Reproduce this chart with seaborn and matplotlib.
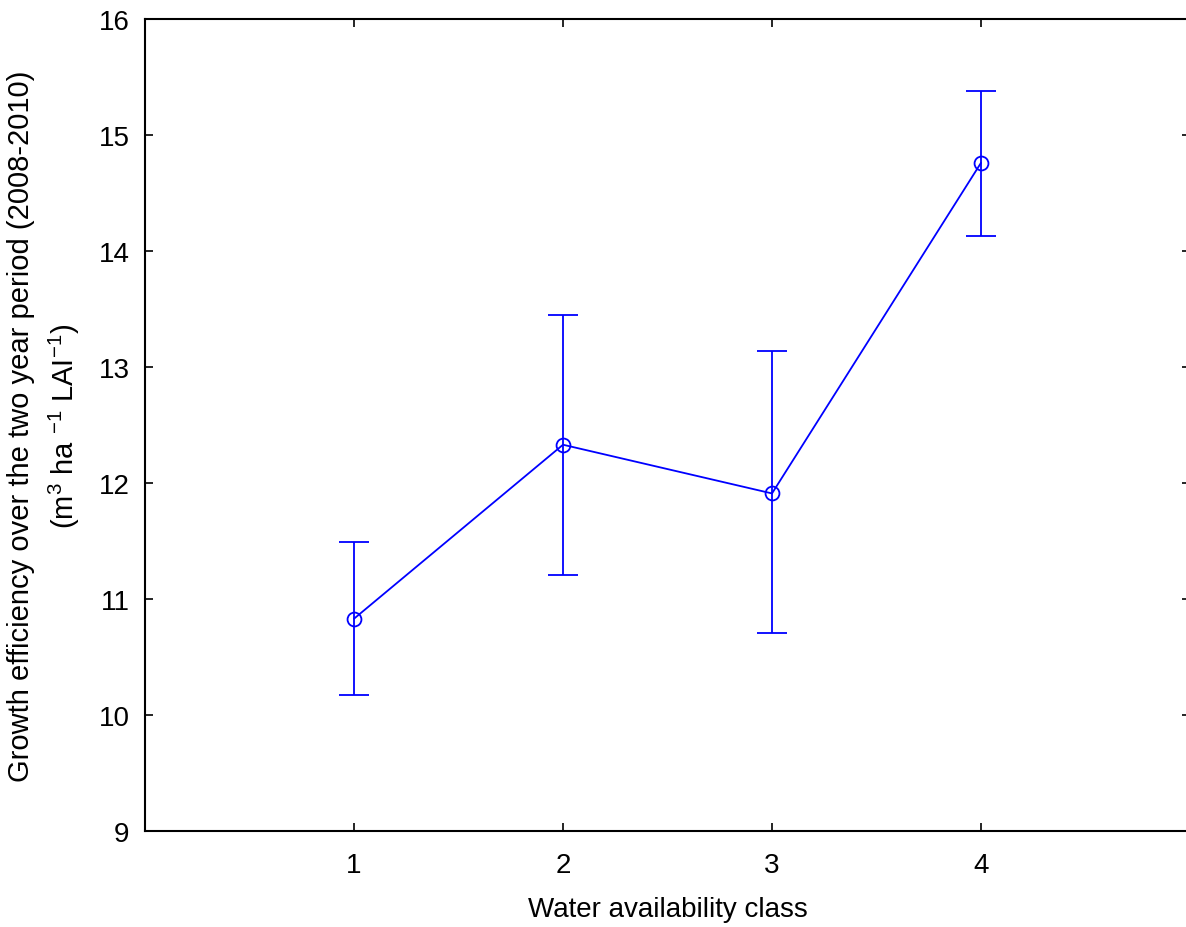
import matplotlib
matplotlib.use("Agg")
import matplotlib.pyplot as plt
import seaborn as sns
import pandas as pd
import numpy as np

classes = [1, 2, 3, 4]
means = [10.83, 12.33, 11.91, 14.76]
upper = [11.49, 13.45, 13.14, 15.38]
lower = [10.17, 11.21, 10.71, 14.13]

sns.set_theme(style="white")
plt.rcParams['font.family'] = ['Liberation Sans', 'DejaVu Sans']
plt.rcParams['mathtext.default'] = 'regular'
plt.rcParams['text.color'] = 'black'
plt.rcParams['axes.labelcolor'] = 'black'

df = pd.DataFrame({"cls": classes, "mean": means})

fig = plt.figure(figsize=(11.86, 9.28), dpi=100)
ax = fig.add_axes([145/1186, 1-832/928, 1045/1186, (832-20)/928])

yerr = [np.array(means) - np.array(lower), np.array(upper) - np.array(means)]
ax.errorbar(classes, means, yerr=yerr, fmt='none', ecolor='#0000ff',
            elinewidth=1.3, capsize=11, capthick=1.3, zorder=2)
sns.lineplot(data=df, x="cls", y="mean", ax=ax, color='#0000ff', linewidth=1.3,
             marker='o', markersize=10, markerfacecolor='none',
             markeredgecolor='#0000ff', markeredgewidth=1.3, zorder=3)

ax.set_xlim(0, 5)
ax.set_ylim(9, 16)
ax.set_xticks([1, 2, 3, 4])
ax.set_yticks(range(9, 17))
ax.tick_params(direction='in', length=6, width=1.2, colors='black',
               labelsize=20, top=True, right=True, left=True, bottom=True)
ax.tick_params(axis='x', pad=15)
ax.tick_params(axis='y', pad=11)
for s in ax.spines.values():
    s.set_color('black')
    s.set_linewidth(1.5)

ax.set_xlabel("Water availability class", fontsize=20, labelpad=13)
ax.set_ylabel("Growth efficiency over the two year period (2008-2010)\n(m$^3$ ha $^{-1}$ LAI$^{-1}$)",
              fontsize=21, labelpad=12, linespacing=1.45)

fig.savefig("out.png", dpi=100)
